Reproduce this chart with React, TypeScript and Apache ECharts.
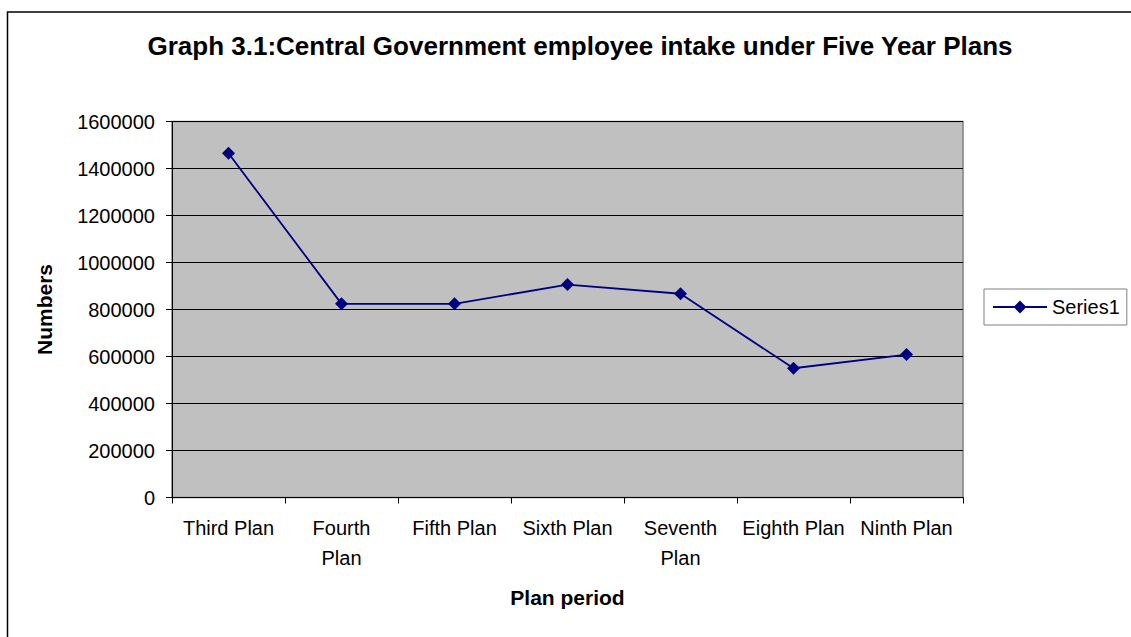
import React, { useEffect, useRef } from "react";
import * as echarts from "echarts";

const titleText = "Graph 3.1:Central Government employee intake under Five Year Plans";
const categories = [
  "Third Plan",
  "Fourth\nPlan",
  "Fifth Plan",
  "Sixth Plan",
  "Seventh\nPlan",
  "Eighth Plan",
  "Ninth Plan",
];
const seriesName = "Series1";
const seriesValues = [1465000, 824000, 824000, 906000, 867000, 550000, 608000];
const yMin = 0;
const yMax = 1600000;
const yInterval = 200000;
const xAxisName = "Plan period";
const yAxisName = "Numbers";

const FONT = "'Liberation Sans', Arial, sans-serif";

export default function App() {
  const ref = useRef<HTMLDivElement>(null);
  useEffect(() => {
    document.body.style.margin = "0";
    const chart = echarts.init(ref.current!, null, { renderer: "svg" });
    chart.setOption({
      animation: false,
      backgroundColor: "#ffffff",
      title: {
        text: titleText,
        left: 575,
        textAlign: "center",
        top: 28,
        textStyle: { fontFamily: FONT, fontSize: 26, fontWeight: "bold", color: "#000" },
      },
      graphic: [
        {
          type: "rect",
          shape: { x: 7.5, y: 12, width: 1300, height: 800 },
          style: { fill: "none", stroke: "#000", lineWidth: 1.5 },
          silent: true,
        },
      ],
      legend: {
        left: 984,
        top: 289,
        orient: "vertical",
        padding: [8, 7, 8, 8],
        borderColor: "#808080",
        borderWidth: 1,
        itemWidth: 54,
        itemHeight: 16,
        itemGap: 0,
        textStyle: { fontFamily: FONT, fontSize: 20, color: "#000" },
        data: [seriesName],
      },
      grid: {
        left: 172,
        top: 121.5,
        width: 791,
        height: 376,
        show: true,
        backgroundColor: "#C0C0C0",
        borderColor: "#808080",
        borderWidth: 1.5,
      },
      xAxis: {
        type: "category",
        data: categories,
        boundaryGap: true,
        name: xAxisName,
        nameLocation: "middle",
        nameGap: 89,
        nameTextStyle: { fontFamily: FONT, fontSize: 21, fontWeight: "bold", color: "#000" },
        axisLine: { show: true, lineStyle: { color: "#000", width: 1 } },
        axisTick: { show: true, inside: false, length: 6, alignWithLabel: false, lineStyle: { color: "#000" } },
        axisLabel: {
          interval: 0,
          margin: 15,
          fontFamily: FONT,
          fontSize: 20,
          lineHeight: 30,
          color: "#000",
        },
        splitLine: { show: false },
      },
      yAxis: {
        type: "value",
        min: yMin,
        max: yMax,
        interval: yInterval,
        name: yAxisName,
        nameLocation: "middle",
        nameGap: 117,
        nameTextStyle: { fontFamily: FONT, fontSize: 21, fontWeight: "bold", color: "#000" },
        axisLine: { show: true, lineStyle: { color: "#000", width: 1 } },
        axisTick: { show: true, inside: false, length: 6, lineStyle: { color: "#000" } },
        axisLabel: {
          margin: 17,
          fontFamily: FONT,
          fontSize: 20,
          color: "#000",
          formatter: (v: number) => String(v),
        },
        splitLine: { show: true, lineStyle: { color: "#000", width: 1 } },
      },
      series: [
        {
          name: seriesName,
          type: "line",
          data: seriesValues,
          symbol: "diamond",
          symbolSize: 13,
          showAllSymbol: true,
          lineStyle: { color: "#000080", width: 1.8 },
          itemStyle: { color: "#000080" },
        },
      ],
    });
    return () => chart.dispose();
  }, []);
  return (
    <div
      ref={ref}
      style={{ position: "absolute", left: 0, top: 0, width: 1131, height: 637 }}
    />
  );
}
